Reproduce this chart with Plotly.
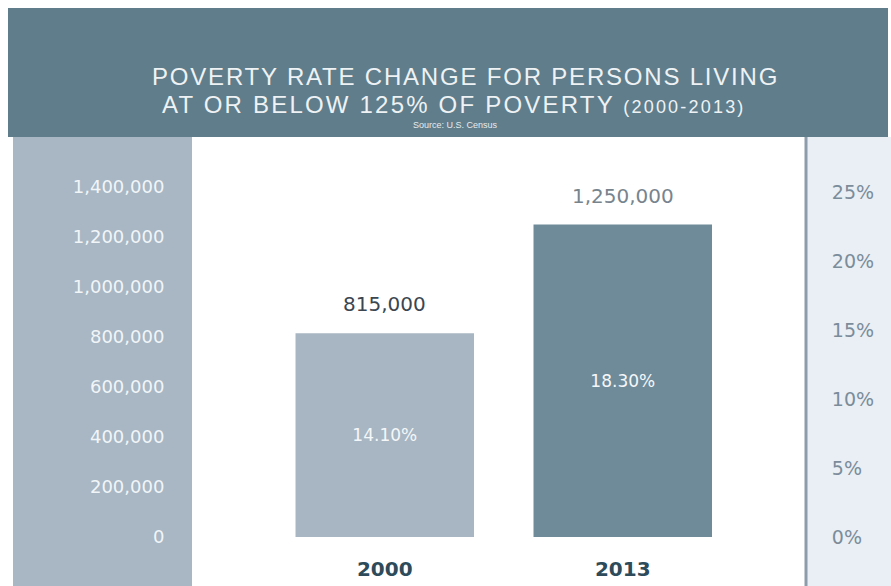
import plotly.graph_objects as go

# ---- data ----
years = ["2000", "2013"]
persons = [815000, 1250000]
rates = [14.1, 18.3]
rate_labels = ["14.10%", "18.30%"]
value_labels = ["815,000", "1,250,000"]
left_ticks = [0, 200000, 400000, 600000, 800000, 1000000, 1200000, 1400000]
right_ticks = [0, 5, 10, 15, 20, 25]

# ---- layout geometry (pixels) ----
W, H = 891, 586
L, R, T, B = 192, 806, 140, 537   # plot area edges


def px(x):
    return (x - L) / (R - L)


def py(y):
    return (B - y) / (B - T)


bar_colors = ["#a7b6c2", "#6f8b99"]
value_colors = ["#3b4650", "#77848e"]

fig = go.Figure()
fig.add_trace(go.Bar(
    x=years, y=persons, width=0.75,
    marker=dict(color=bar_colors, line=dict(width=0)),
    text=rate_labels, textposition="inside", insidetextanchor="middle",
    textfont=dict(family="DejaVu Sans", size=17, color="#f4f7f9"),
    hoverinfo="skip", yaxis="y",
))
# rates on the right-hand axis (invisible markers so the axis is drawn)
fig.add_trace(go.Scatter(
    x=years, y=rates, mode="markers", marker=dict(opacity=0),
    yaxis="y2", hoverinfo="skip", showlegend=False,
))

shapes = [
    dict(type="rect", xref="paper", yref="paper", x0=px(8), x1=px(888), y0=py(137), y1=py(8),
         fillcolor="#5f7d8b", line=dict(width=0), layer="below"),
    dict(type="rect", xref="paper", yref="paper", x0=px(13), x1=px(192), y0=py(590), y1=py(137),
         fillcolor="#a8b7c3", line=dict(width=0), layer="below"),
    dict(type="rect", xref="paper", yref="paper", x0=px(807), x1=px(895), y0=py(590), y1=py(137),
         fillcolor="#e9eff4", line=dict(width=0), layer="below"),
    dict(type="line", xref="paper", yref="paper", x0=px(806), x1=px(806), y0=py(590), y1=py(137),
         line=dict(color="#8d9cab", width=3), layer="below"),
]

annotations = []
# value labels above the bars (x given as category index)
for i, (v, lab, col) in enumerate(zip(persons, value_labels, value_colors)):
    annotations.append(dict(x=i, y=v, xref="x", yref="y", text=lab, showarrow=False,
                            xanchor="center", yanchor="middle", yshift=29,
                            font=dict(family="DejaVu Sans", size=20, color=col)))

title_font = dict(family="Liberation Sans", size=24, color="#eef2f4")
annotations += [
    dict(xref="paper", yref="paper", x=px(465), y=py(77), xanchor="center", yanchor="middle",
         text="<span style='letter-spacing:1.8px'>POVERTY RATE CHANGE FOR PERSONS LIVING</span>",
         showarrow=False, font=title_font),
    dict(xref="paper", yref="paper", x=px(454), y=py(104), xanchor="center", yanchor="middle",
         text="<span style='letter-spacing:2.2px'>AT OR BELOW 125% OF POVERTY "
              "<span style='font-size:18px'>(2000-2013)</span></span>",
         showarrow=False, font=title_font),
    dict(xref="paper", yref="paper", x=px(455), y=py(125), xanchor="center", yanchor="middle",
         text="Source: U.S. Census", showarrow=False,
         font=dict(family="Liberation Sans", size=9, color="#e6ecef")),
]

fig.update_layout(
    width=W, height=H,
    margin=dict(l=L, r=W - R, t=T, b=H - B, pad=0, autoexpand=False),
    paper_bgcolor="white", plot_bgcolor="white",
    showlegend=False,
    shapes=shapes, annotations=annotations,
    xaxis=dict(type="category", range=[-0.81, 1.77], showgrid=False, zeroline=False,
               showline=False, automargin=False,
               ticks="outside", ticklen=14, tickcolor="rgba(0,0,0,0)",
               tickfont=dict(family="DejaVu Sans", size=20, color="#2d4b5a", weight="bold")),
    yaxis=dict(range=[0, 1588000], tickvals=left_ticks, tickformat=",d",
               showgrid=False, zeroline=False, showline=False, automargin=False,
               ticks="outside", ticklen=23, tickcolor="rgba(0,0,0,0)",
               tickfont=dict(family="DejaVu Sans", size=18, color="#f1f5f8")),
    yaxis2=dict(range=[0, 28.77], tickvals=right_ticks,
                ticktext=[f"{t}%" for t in right_ticks], overlaying="y", side="right",
                showgrid=False, zeroline=False, showline=False, automargin=False,
                ticks="outside", ticklen=21, tickcolor="rgba(0,0,0,0)",
                tickfont=dict(family="DejaVu Sans", size=19, color="#7b8c9a")),
)

fig.write_html("out.html", config={"displayModeBar": False},
               post_script="document.body.style.margin='0';document.body.style.overflow='hidden';")
